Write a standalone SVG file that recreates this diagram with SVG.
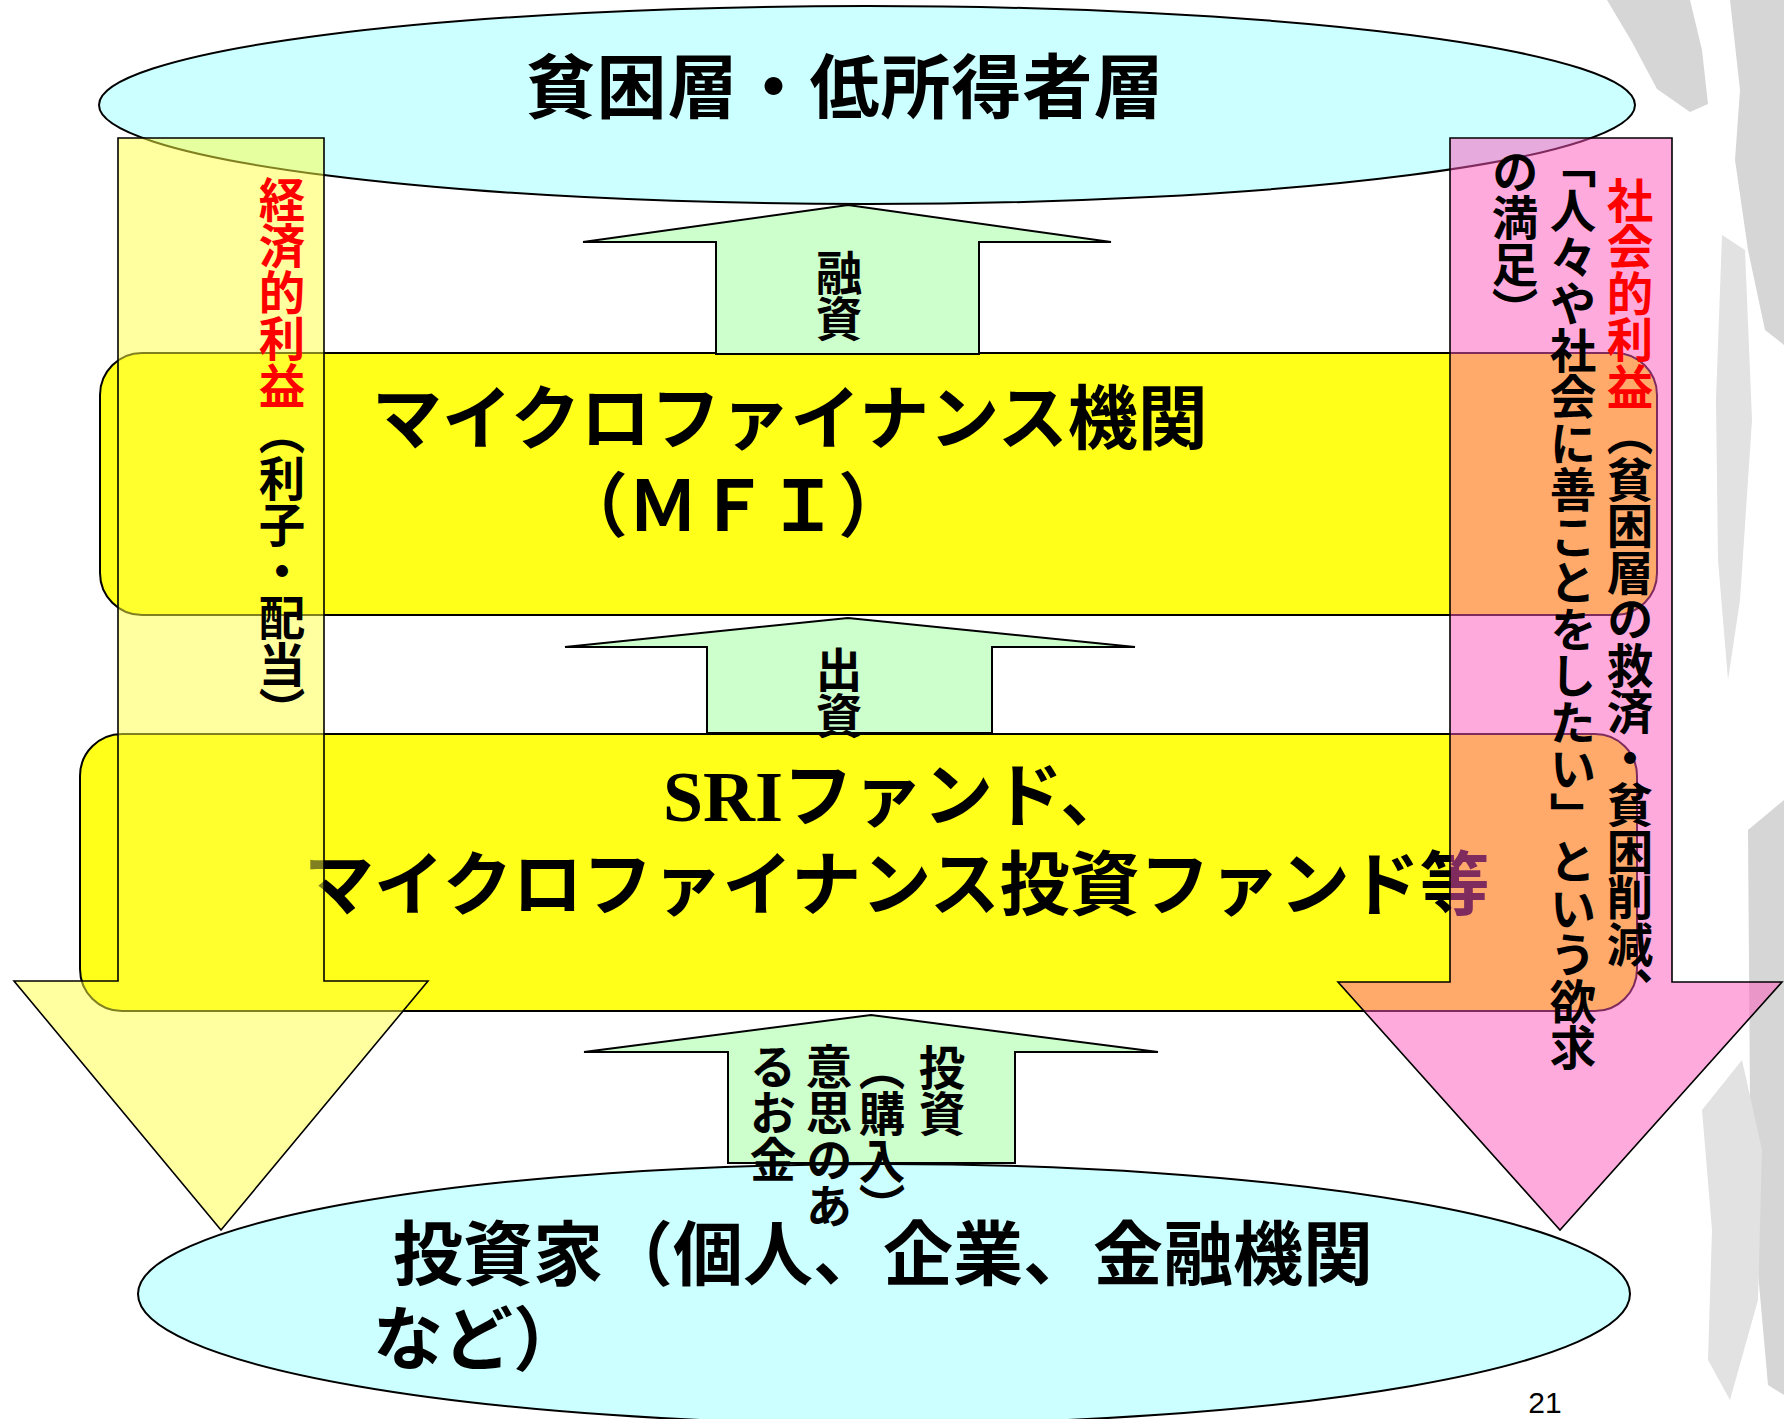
<svg xmlns="http://www.w3.org/2000/svg" width="1784" height="1419" viewBox="0 0 1784 1419">
<style>
.jp{font-family:"Noto Sans CJK JP","Noto Sans CJK SC",sans-serif;font-weight:700;fill:#000}
.big{font-size:70px}
.vt{font-size:46.5px;writing-mode:vertical-rl}
.ell{fill:#ccffff;stroke:#000;stroke-width:2}
.box{fill:#ffff1a;stroke:#000;stroke-width:2}
.grn{fill:#ccffcc;stroke:#000;stroke-width:2;stroke-linejoin:miter}
.yarr{fill:#ffff40;fill-opacity:0.5;stroke:#000;stroke-width:1.6}
.parr{fill:#ff55bb;fill-opacity:0.5;stroke:#000;stroke-width:1.6}
.deco{fill:#d6d6d6}
.deco2{fill:#e2e2e2}
</style>
<rect width="1784" height="1419" fill="#fff"/>
<g id="decoration">
<polygon class="deco" points="1607,0 1690,0 1702,50 1708,104 1690,112 1657,89 1632,42"/>
<polygon class="deco" points="1730,0 1784,0 1784,345 1765,330 1748,250 1735,160 1740,90"/>
<polygon class="deco2" points="1722,235 1745,250 1752,420 1740,600 1728,680 1718,560 1716,400"/>
<polygon class="deco" points="1748,830 1784,800 1784,1395 1768,1385 1756,1250 1750,1100"/>
<polygon class="deco2" points="1702,1110 1742,1060 1762,1150 1758,1300 1730,1400 1708,1360 1712,1230"/>
</g>
<g id="node-poor">
<ellipse class="ell" cx="867" cy="105" rx="768" ry="99"/>
<text class="jp big" x="845" y="113" text-anchor="middle" letter-spacing="1">貧困層・低所得者層</text>
</g>
<g id="node-mfi">
<rect class="box" x="100" y="353" width="1557" height="262" rx="42" ry="42"/>
<text class="jp big" x="372" y="444">マイクロファイナンス機関</text>
<text class="jp big" x="558" y="531">（ＭＦＩ）</text>
</g>
<g id="node-sri">
<rect class="box" x="80" y="734" width="1557" height="277" rx="42" ry="42"/>
<text class="jp big" x="663" y="821"><tspan font-family="Liberation Serif" font-size="72">SRI</tspan>ファンド、</text>
<text class="jp big" x="304" y="910">マイクロファイナンス投資ファンド等</text>
</g>
<g id="node-investors">
<ellipse class="ell" cx="884" cy="1294" rx="746" ry="130"/>
<text class="jp big" x="393" y="1280">投資家（個人、企業、金融機関</text>
<text class="jp big" x="373" y="1365">など）</text>
</g>
<g id="connectors">
<path class="grn" d="M583,242 L848,205 L1111,242 L979,242 L979,354 L716,354 L716,242 Z"/>
<path class="grn" d="M565,647 L848,618 L1135,647 L992,647 L992,733 L707,733 L707,647 Z"/>
<path class="grn" d="M584,1052 L871,1015 L1158,1052 L1015,1052 L1015,1163 L728,1163 L728,1052 Z"/>
<path class="yarr" d="M118,138 L324,138 L324,981 L428,981 L221,1230 L14,981 L118,981 Z"/>
<path class="parr" d="M1450,138 L1672,138 L1672,982 L1782,982 L1560,1230 L1338,982 L1450,982 Z"/>
<text class="jp vt" x="839" y="249">融資</text>
<text class="jp vt" x="839" y="646">出資</text>
<text class="jp vt" x="942" y="1044">投資</text>
<text class="jp vt" x="882" y="1044">（購入）</text>
<text class="jp vt" x="829" y="1043">意思のあ</text>
<text class="jp vt" x="773" y="1043">るお金</text>
<text class="jp vt" x="282" y="176"><tspan fill="#ff0000">経済的利益</tspan>（利子・配当）</text>
<text class="jp vt" x="1630" y="177"><tspan fill="#ff0000">社会的利益</tspan>（貧困層の救済・貧困削減、</text>
<text class="jp vt" x="1573" y="141">「人々や社会に善ことをしたい」という欲求</text>
<text class="jp vt" x="1515" y="148">の満足）</text>
</g>
<text x="1545" y="1413" text-anchor="middle" font-family="Liberation Sans, Arial, sans-serif" font-size="30" fill="#000">21</text>
</svg>
